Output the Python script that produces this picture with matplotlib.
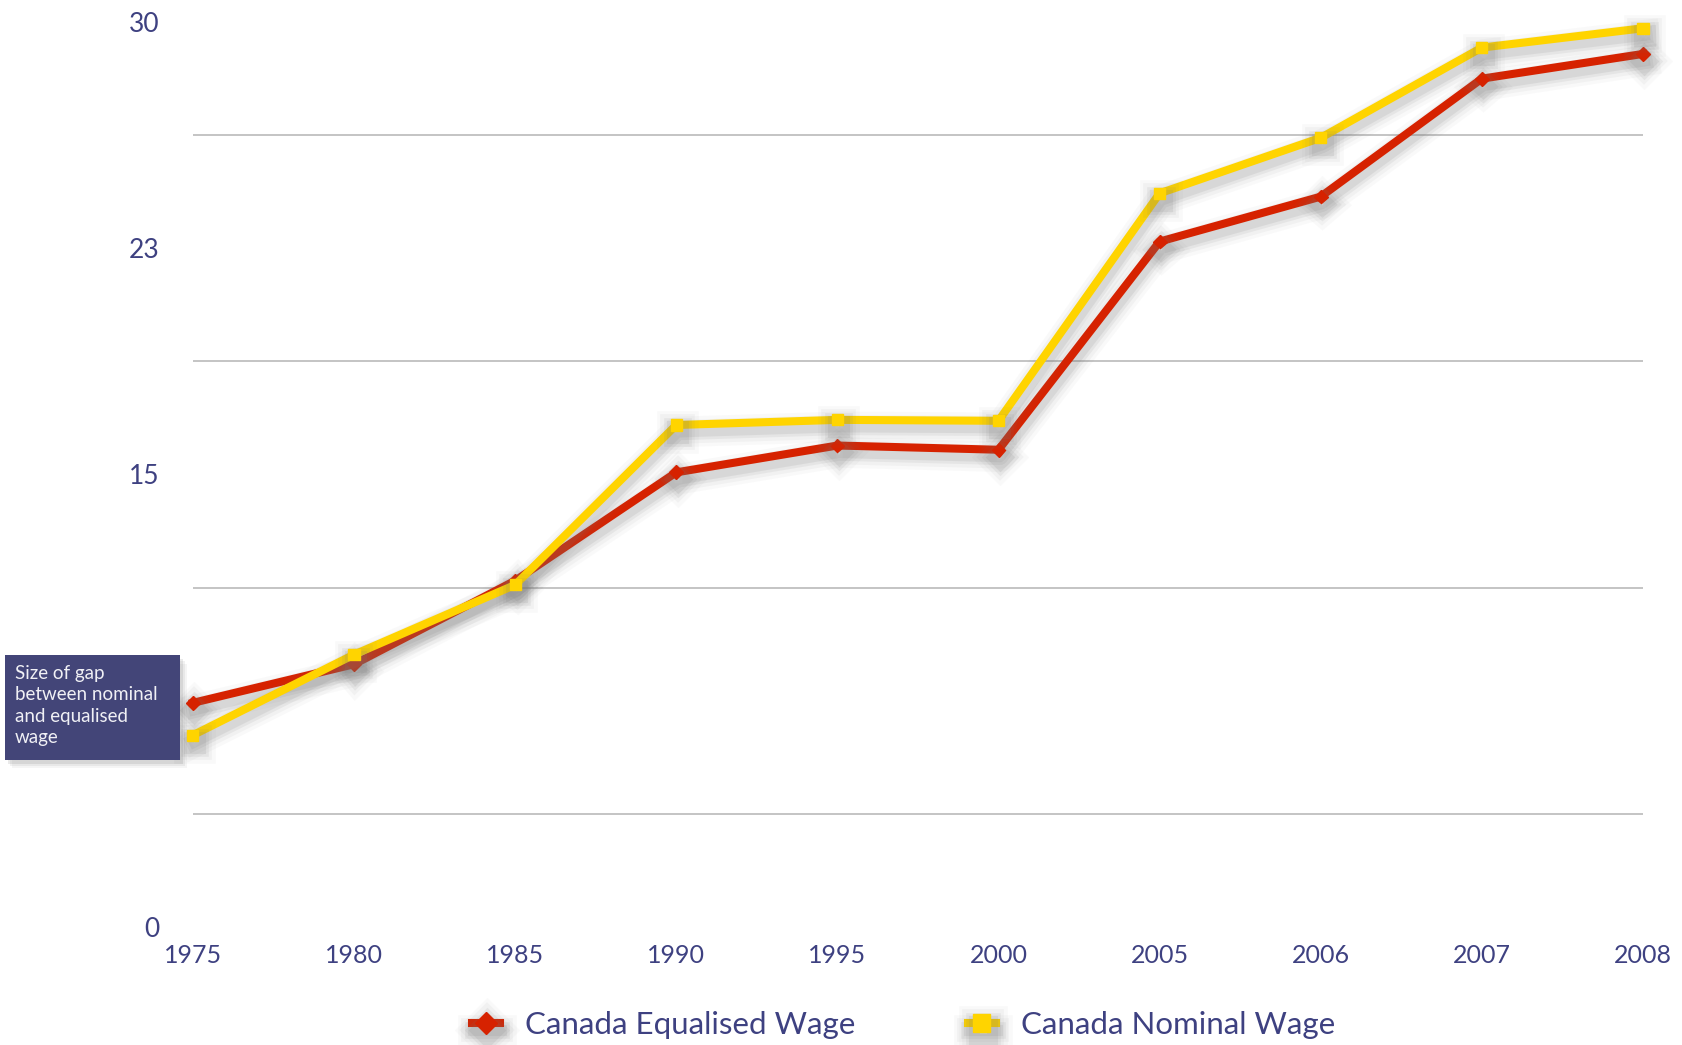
import matplotlib
matplotlib.use('Agg')
import matplotlib.pyplot as plt
import matplotlib.patheffects as pe
from matplotlib.patches import Rectangle
import numpy as np

years = ['1975', '1980', '1985', '1990', '1995', '2000', '2005', '2006', '2007', '2008']
equalised = [7.43, 8.71, 11.48, 15.07, 15.96, 15.82, 22.72, 24.21, 28.12, 28.94]
nominal = [6.36, 9.03, 11.34, 16.64, 16.81, 16.78, 24.32, 26.16, 29.15, 29.79]
ytick_vals = [0, 7.5, 15, 22.5, 30]
ytick_labels = ['0', '', '15', '23', '30']   # the 8 sits under the note box
grid_vals = [3.75, 11.25, 18.75, 26.25]

txt_col = '#3e4181'
red = '#d62200'
yellow = '#ffd400'

plt.rcParams['font.family'] = ['Lato', 'DejaVu Sans']

fig = plt.figure(figsize=(16.82, 10.45), dpi=100)
ax = fig.add_axes([0.1147, 0.1129, 0.8621, 0.8661])

x = np.arange(len(years))
for g in grid_vals:
    ax.axhline(g, color='#b4b4b4', lw=1.1, zorder=1)

# soft shadow: a few wide, faint copies under the line
shadow = [pe.SimpleLineShadow(offset=(1, -5), shadow_color='#777777', alpha=a, linewidth=w)
          for w, a in [(22, 0.04), (17, 0.06), (12, 0.09), (8, 0.12)]] + [pe.Normal()]
ax.plot(x, equalised, color=red, lw=5.8, marker='D', ms=7, label='Canada Equalised Wage',
        clip_on=False, zorder=3, path_effects=shadow)
ax.plot(x, nominal, color=yellow, lw=5.8, marker='s', ms=8, label='Canada Nominal Wage',
        clip_on=False, zorder=3, path_effects=shadow)

ax.set_xlim(0, len(years) - 1)
ax.set_ylim(0, 30)
ax.set_xticks(x)
ax.set_xticklabels(years)
ax.set_yticks(ytick_vals)
ax.set_yticklabels(ytick_labels)
ax.tick_params(axis='x', length=0, pad=12, labelsize=18, labelcolor=txt_col)
ax.tick_params(axis='y', length=0, pad=24, labelsize=19, labelcolor=txt_col)
for s in ax.spines.values():
    s.set_visible(False)

leg = fig.legend(loc='center', bbox_to_anchor=(0.537, 0.019), ncol=2, frameon=False,
                 fontsize=22.5, labelcolor=txt_col, handlelength=0.9, columnspacing=3.6,
                 handletextpad=0.8, markerscale=1.6)

# note box with a soft shadow
for dx, dy, a in [(0.004, -0.008, 0.06), (0.003, -0.006, 0.08), (0.002, -0.004, 0.12)]:
    fig.patches.append(Rectangle((0.003 + dx, 0.273 + dy), 0.104, 0.1, transform=fig.transFigure,
                                 facecolor='#555555', edgecolor='none', alpha=a, zorder=9))
fig.patches.append(Rectangle((0.003, 0.273), 0.104, 0.1, transform=fig.transFigure,
                             facecolor='#434578', edgecolor='none', zorder=10))
fig.text(0.009, 0.364, 'Size of gap\nbetween nominal\nand equalised\nwage', color='#f0f0f5',
         fontsize=13.5, va='top', ha='left', linespacing=1.32, zorder=11)

fig.savefig('out.png', dpi=100)
